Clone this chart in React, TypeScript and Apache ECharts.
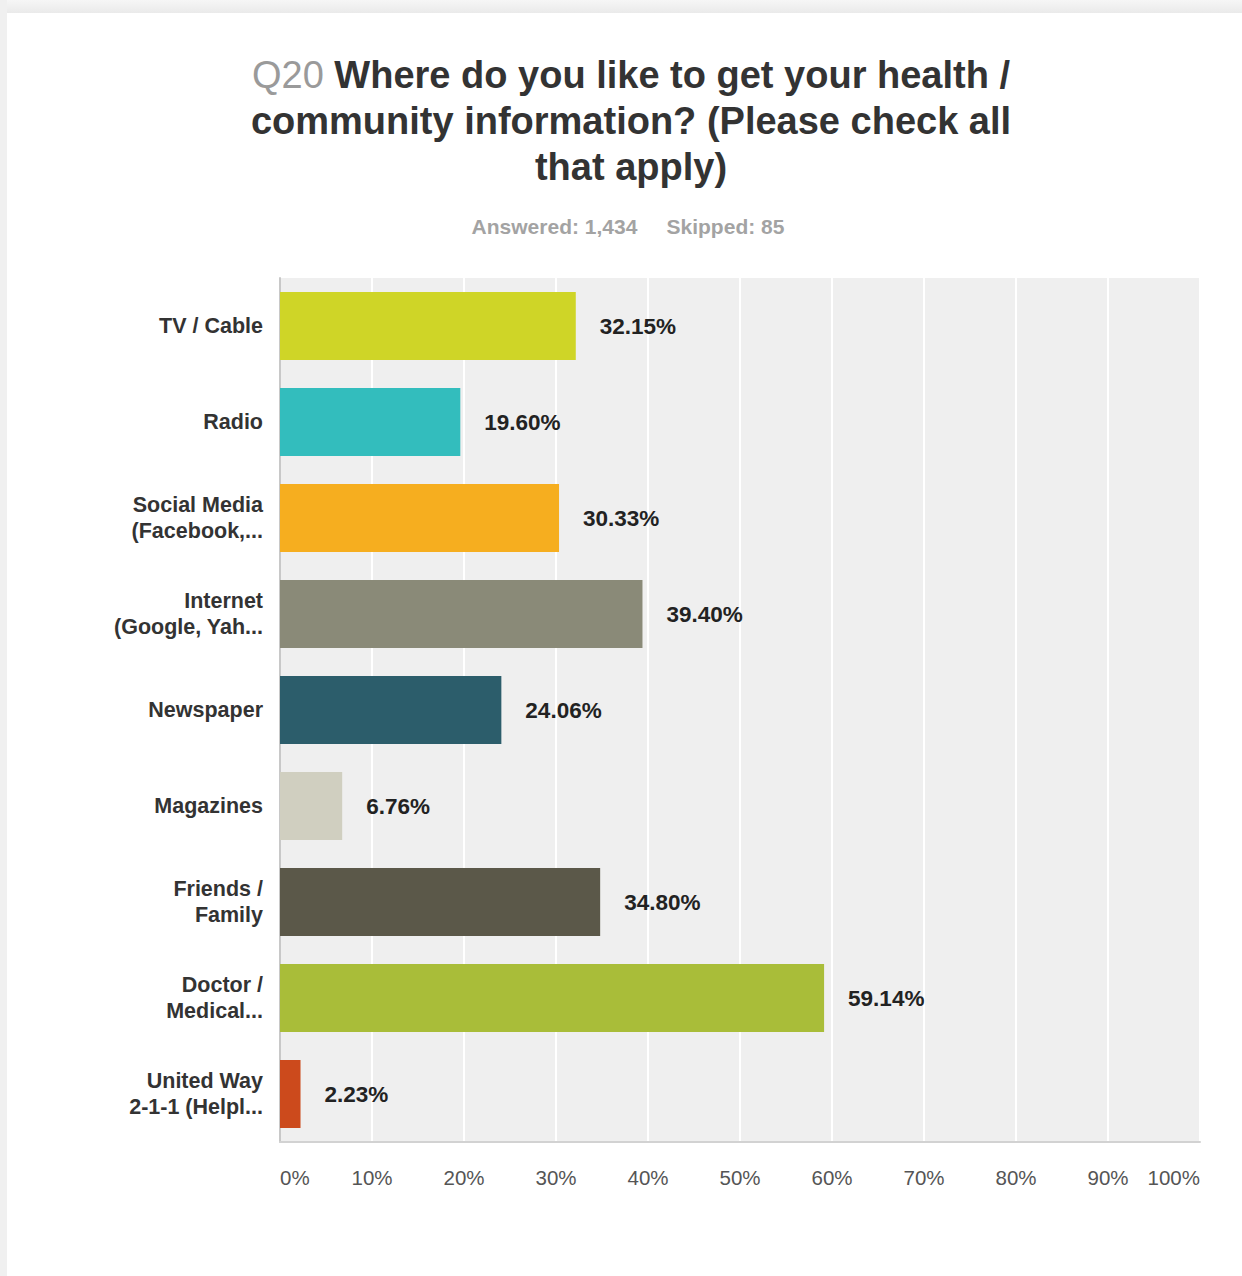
import React, { useEffect, useRef } from "react";
import * as echarts from "echarts";

const categories = [
  "TV / Cable",
  "Radio",
  "Social Media\n(Facebook,...",
  "Internet\n(Google, Yah...",
  "Newspaper",
  "Magazines",
  "Friends /\nFamily",
  "Doctor /\nMedical...",
  "United Way\n2-1-1 (Helpl...",
];
const values = [32.15, 19.6, 30.33, 39.4, 24.06, 6.76, 34.8, 59.14, 2.23];
const barColors = [
  "#cfd527",
  "#33bdbd",
  "#f6ae1f",
  "#8a8a78",
  "#2c5d6b",
  "#d0cfc0",
  "#5b5849",
  "#a9bd39",
  "#cc4a1c",
];
const titleQ = "Q20";
const titleLines = [
  "Where do you like to get your health /",
  "community information? (Please check all",
  "that apply)",
];
const subtitle = "Answered: 1,434     Skipped: 85";

export default function App() {
  const ref = useRef<HTMLDivElement>(null);
  useEffect(() => {
    if (!ref.current) return;
    const chart = echarts.init(ref.current, null, { renderer: "svg" });
    const font = "'Liberation Sans', Arial, sans-serif";
    chart.setOption({
      animation: false,
      backgroundColor: "#ffffff",
      textStyle: { fontFamily: font },
      graphic: [
        {
          type: "rect",
          shape: { x: 0, y: 0, width: 1242, height: 13 },
          style: {
            fill: new echarts.graphic.LinearGradient(0, 0, 0, 1, [
              { offset: 0, color: "#f6f6f6" },
              { offset: 1, color: "#eaeaea" },
            ]),
          },
          silent: true,
        },
        {
          type: "rect",
          shape: { x: 0, y: 0, width: 7, height: 1276 },
          style: { fill: "#f0f0f0" },
          silent: true,
        },
        {
          type: "text",
          x: 631,
          y: 52,
          style: {
            text:
              "{q|" + titleQ + "}{b| " + titleLines[0] + "}\n{b|" + titleLines[1] + "}\n{b|" + titleLines[2] + "}",
            align: "center",
            verticalAlign: "top",
            fontFamily: font,
            rich: {
              q: { fontSize: 38, fontWeight: "normal", fill: "#9a9a9a", lineHeight: 46, fontFamily: font },
              b: { fontSize: 38, fontWeight: "bold", fill: "#333333", lineHeight: 46, fontFamily: font },
            },
          },
        },
        {
          type: "text",
          x: 628,
          y: 226,
          style: {
            text: subtitle,
            align: "center",
            verticalAlign: "middle",
            fontSize: 21,
            fontWeight: "bold",
            fill: "#a3a3a3",
            fontFamily: font,
          },
        },
      ],
      grid: {
        left: 280,
        right: 42,
        top: 278,
        bottom: 134,
        show: true,
        backgroundColor: "#efefef",
        borderWidth: 0,
      },
      xAxis: {
        type: "value",
        min: 0,
        max: 100,
        interval: 10,
        axisLine: { show: true, lineStyle: { color: "#d2d2d2", width: 2 } },
        axisTick: { show: false },
        splitLine: { show: true, lineStyle: { color: "#ffffff", width: 2 } },
        axisLabel: {
          formatter: "{value}%",
          color: "#555555",
          fontSize: 20.5,
          margin: 25,
          alignMinLabel: "left",
          alignMaxLabel: "right",
          fontFamily: font,
        },
      },
      yAxis: {
        type: "category",
        data: categories,
        inverse: true,
        axisLine: { show: true, lineStyle: { color: "#c8c8c8", width: 2 } },
        axisTick: { show: false },
        axisLabel: {
          color: "#333333",
          fontSize: 21.5,
          fontWeight: "bold",
          lineHeight: 26,
          margin: 17,
          align: "right",
          fontFamily: font,
        },
      },
      series: [
        {
          type: "bar",
          data: values.map((v, i) => ({ value: v, itemStyle: { color: barColors[i] } })),
          barWidth: "71%",
          label: {
            show: true,
            position: "right",
            distance: 24,
            formatter: (p: any) => p.value.toFixed(2) + "%",
            color: "#222222",
            fontSize: 22.5,
            fontWeight: "bold",
            fontFamily: font,
          },
        },
      ],
    });
    return () => chart.dispose();
  }, []);
  return (
    <div
      ref={ref}
      style={{ position: "absolute", left: 0, top: 0, width: 1242, height: 1276 }}
    />
  );
}
